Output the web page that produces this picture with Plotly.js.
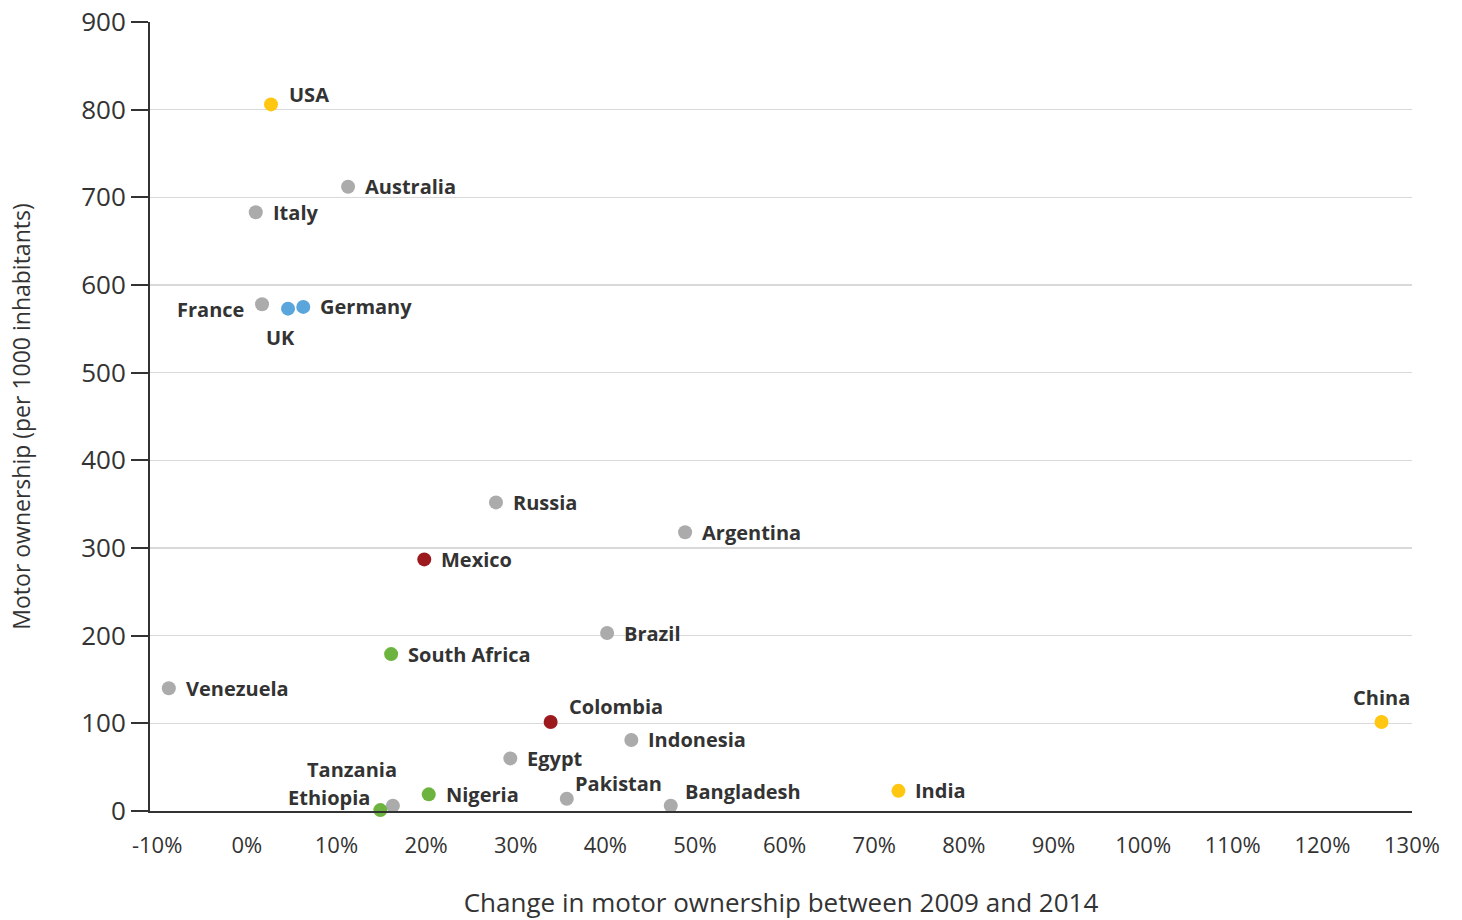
<!DOCTYPE html>
<html><head><meta charset="utf-8">
<script src="https://cdn.plot.ly/plotly-3.0.1.min.js"></script>
<style>html,body{margin:0;padding:0;background:#fff}#chart{width:1462px;height:920px}</style>
</head><body><div id="chart"></div>
<script>
const countries = ["USA","Australia","Italy","France","UK","Germany","Russia","Argentina","Mexico","Brazil","South Africa","Venezuela","Colombia","Indonesia","Egypt","China","India","Nigeria","Pakistan","Bangladesh","Tanzania","Ethiopia"];
const changePct = [2.7,11.3,1.0,1.7,4.6,6.3,27.8,48.9,19.8,40.2,16.1,-8.7,33.9,42.9,29.4,126.6,72.7,20.3,35.7,47.3,16.3,14.9];
const ownership = [806,712,683,578,573,575,352,318,287,203,179,140,101.5,81,60,101.5,23,19,14,6,6,1];
const group = ["yellow","gray","gray","gray","blue","blue","gray","gray","red","gray","green","gray","red","gray","gray","yellow","yellow","green","gray","gray","gray","green"];

const colorMap = {gray:"#ababab", yellow:"#ffc612", blue:"#5aa5dc", red:"#9c1a1d", green:"#6db33f"};
const FONT = "'Open Sans', sans-serif";
// label placement: [xanchor, xshift, yshift]
const labelPos = {
  "USA":["left",16,10], "France":["right",-16,-5], "UK":["center",-8,-29], "China":["center",0,25],
  "Tanzania":["right",6,36], "Ethiopia":["right",-8,13], "Pakistan":["left",6,15], "Colombia":["left",16,16],
  "Bangladesh":["left",12,14]
};

const annotations = countries.map((c,i)=>{
  const p = labelPos[c] || ["left",15,0];
  return {x:changePct[i], y:ownership[i], xref:"x", yref:"y", text:c, showarrow:false,
    xanchor:p[0], yanchor:"middle", xshift:p[1], yshift:p[2],
    font:{family:FONT, size:20, color:"#333", weight:"bold"}};
});

const trace = {
  x: changePct, y: ownership, mode:"markers", type:"scatter", cliponaxis:false,
  marker:{size:14, color: group.map(g=>colorMap[g])}, hoverinfo:"text", text:countries
};

const layout = {
  width:1462, height:920,
  margin:{l:150, r:50, t:22, b:109},
  paper_bgcolor:"#fff", plot_bgcolor:"#fff",
  showlegend:false,
  font:{family:FONT, color:"#333"},
  xaxis:{range:[-10.8,130], tickvals:[-10,0,10,20,30,40,50,60,70,80,90,100,110,120,130],
    ticktext:["-10%","0%","10%","20%","30%","40%","50%","60%","70%","80%","90%","100%","110%","120%","130%"],
    showgrid:false, zeroline:false, showline:true, linecolor:"#333", linewidth:2,
    ticks:"outside", ticklen:14, tickcolor:"rgba(0,0,0,0)", tickfont:{size:22, color:"#333"},
    title:{text:"Change in motor ownership between 2009 and 2014", font:{size:26, color:"#333"}, standoff:38}},
  yaxis:{range:[0,900], tickvals:[0,100,200,300,400,500,600,700,800,900],
    showgrid:true, gridcolor:"#d9d9d9", gridwidth:1.5, zeroline:false, showline:true, linecolor:"#333", linewidth:2,
    ticks:"outside", ticklen:17, tickwidth:2, tickcolor:"#333", tickfont:{size:26, color:"#333"},
    title:{text:"Motor ownership (per 1000 inhabitants)", font:{size:23, color:"#333"}, standoff:44}},
  annotations: annotations
};
Plotly.newPlot("chart",[trace],layout,{displayModeBar:false, staticPlot:true});
</script></body></html>
